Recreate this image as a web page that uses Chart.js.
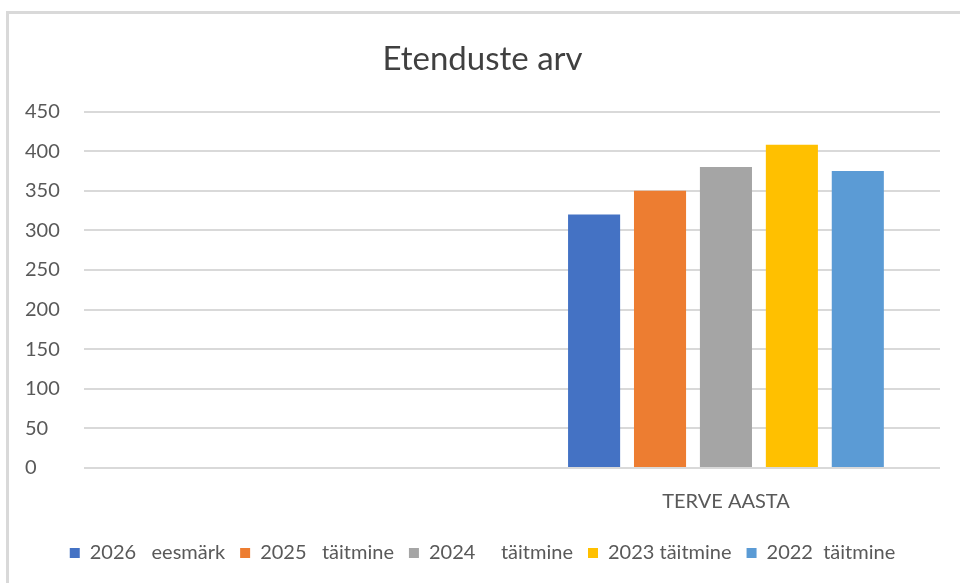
<!DOCTYPE html>
<html>
<head>
<meta charset="utf-8">
<script src="https://cdn.jsdelivr.net/npm/chart.js@4"></script>
<style>
  html, body { margin: 0; padding: 0; background: #fff; overflow: hidden; }
  #frame {
    position: absolute; left: 6px; top: 11px;
    width: 960px; height: 580px;
    border-left: 3px solid #d9d9d9; border-top: 3px solid #d9d9d9;
    box-sizing: border-box;
  }
  #chart { display: block; }
</style>
</head>
<body>
<div id="frame"><canvas id="chart"></canvas></div>
<script>
const categories = ['', 'TERVE AASTA'];
const seriesNames = ['2026   eesmärk', '2025   täitmine', '2024     täitmine', '2023 täitmine', '2022  täitmine'];
const seriesValues = [
    [null, 320],
    [null, 350],
    [null, 380],
    [null, 408],
    [null, 375]
];
const seriesColors = ['#4472c4', '#ed7d31', '#a5a5a5', '#ffc000', '#5b9bd5'];
const yTicks = [0, 50, 100, 150, 200, 250, 300, 350, 400, 450];

const canvas = document.getElementById('chart');
canvas.width = 951;
canvas.height = 569;
canvas.style.width = '951px';
canvas.style.height = '569px';

const font = "Lato, 'Open Sans', sans-serif";

new Chart(canvas.getContext('2d'), {
    type: 'bar',
    data: {
        labels: categories,
        datasets: seriesNames.map((name, i) => ({
            label: name,
            data: seriesValues[i],
            backgroundColor: seriesColors[i],
            borderWidth: 0,
            barPercentage: 0.79,
            categoryPercentage: 0.77
        }))
    },
    options: {
        responsive: false,
        animation: false,
        layout: { padding: { left: 16, right: 20, top: 0, bottom: 10 } },
        plugins: {
            title: {
                display: true,
                text: 'Etenduste arv',
                color: '#404040',
                font: { size: 33, family: font, weight: 'normal' },
                padding: { top: 26, bottom: 32 }
            },
            legend: {
                position: 'bottom',
                labels: {
                    boxWidth: 10,
                    boxHeight: 10,
                    color: '#595959',
                    font: { size: 20, family: font },
                    padding: 15
                }
            },
            tooltip: { enabled: false }
        },
        scales: {
            x: {
                grid: { display: false },
                border: { display: false },
                ticks: {
                    color: '#595959',
                    font: { size: 20, family: font },
                    padding: 14
                }
            },
            y: {
                min: 0,
                max: 450,
                afterBuildTicks: axis => { axis.ticks = yTicks.map(v => ({ value: v })); },
                border: { display: false },
                grid: { color: '#d9d9d9', lineWidth: 2, drawTicks: false },
                ticks: {
                    color: '#595959',
                    font: { size: 20, family: font },
                    crossAlign: 'far',
                    padding: 12
                }
            }
        }
    }
});
</script>
</body>
</html>
